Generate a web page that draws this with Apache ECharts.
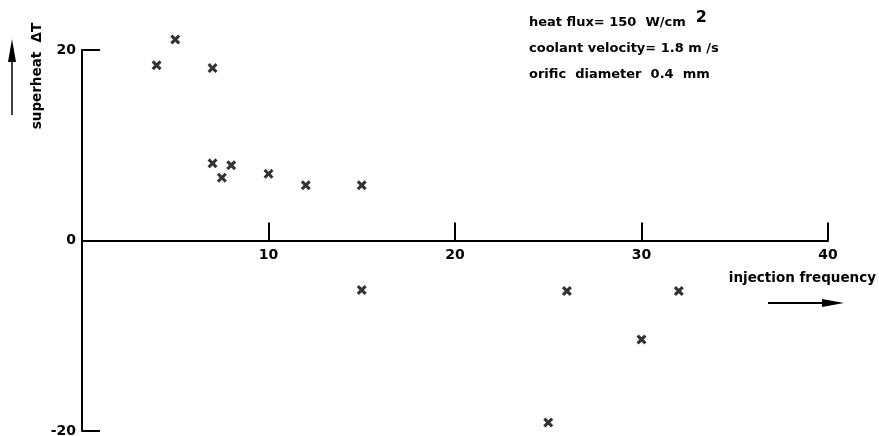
<!DOCTYPE html>
<html>
<head>
<meta charset="utf-8">
<script src="https://cdn.jsdelivr.net/npm/echarts@6/dist/echarts.min.js"></script>
<style>
  html, body { margin: 0; padding: 0; background: #fff; }
  #chart { width: 879px; height: 436px; }
</style>
</head>
<body>
<div id="chart"></div>
<script>
// Injection frequency (x) against superheat ΔT (y)
const injectionFrequency = [4, 5, 7, 7, 7.5, 8, 10, 12, 15, 15, 25, 26, 30, 32];
const superheat = [18.4, 21.1, 18.1, 8.1, 6.6, 7.9, 7.0, 5.8, 5.8, -5.2, -19.1, -5.3, -10.4, -5.3];

const xTicks = [0, 10, 20, 30, 40];
const yTicks = [-20, 0, 20];

const notes = [
  '{t|heat flux= 150  W/cm}{sup|2}',
  '{t|coolant velocity= 1.8 m /s}',
  '{t|orific  diameter  0.4  mm}'
];

const FONT = 'DejaVu Sans';
const points = injectionFrequency.map((f, i) => [f, superheat[i]]);

// bold "x" marker
const crossPath = 'path://M0,2.2 L2.2,0 L5,2.8 L7.8,0 L10,2.2 L7.2,5 L10,7.8 L7.8,10 L5,7.2 L2.2,10 L0,7.8 L2.8,5 Z';

const GRID = { left: 82, right: 51, top: 50, bottom: 5 };
const plotHeight = 436 - GRID.top - GRID.bottom;

const chart = echarts.init(document.getElementById('chart'), null, { renderer: 'canvas' });

chart.setOption({
  animation: false,
  backgroundColor: '#ffffff',
  grid: Object.assign({ containLabel: false, outerBoundsMode: 'none' }, GRID),
  xAxis: {
    type: 'value',
    min: xTicks[0],
    max: xTicks[xTicks.length - 1],
    interval: 10,
    position: 'bottom',
    // the horizontal axis runs through ΔT = 0, the middle of the symmetric y range
    offset: -plotHeight / 2,
    splitLine: { show: false },
    axisLine: { onZero: false, lineStyle: { color: '#000', width: 2 } },
    axisTick: { inside: true, length: 18, lineStyle: { color: '#000', width: 2 } },
    axisLabel: {
      margin: 8,
      color: '#000',
      fontFamily: FONT,
      fontWeight: 'bold',
      fontSize: 14,
      formatter: v => (v === 0 ? '' : String(v))
    }
  },
  yAxis: {
    type: 'value',
    min: yTicks[0],
    max: yTicks[yTicks.length - 1],
    interval: 20,
    splitLine: { show: false },
    axisLine: { onZero: false, lineStyle: { color: '#000', width: 2 } },
    axisTick: { inside: true, length: 18, lineStyle: { color: '#000', width: 2 } },
    axisLabel: {
      margin: 6,
      color: '#000',
      fontFamily: FONT,
      fontWeight: 'bold',
      fontSize: 14,
      formatter: v => String(v)
    }
  },
  series: [{
    type: 'scatter',
    data: points,
    symbol: crossPath,
    symbolSize: [10, 10],
    itemStyle: { color: '#000' },
    clip: false,
    silent: true
  }],
  graphic: [
    // vertical axis caption with upward arrow
    {
      type: 'text', x: 37, y: 76, rotation: Math.PI / 2,
      style: { text: 'superheat  ΔT', fill: '#000', font: 'bold 13.5px "DejaVu Sans"', align: 'center', verticalAlign: 'middle' }
    },
    { type: 'line', shape: { x1: 12, y1: 115, x2: 12, y2: 58 }, style: { stroke: '#000', lineWidth: 1.5 } },
    { type: 'polygon', shape: { points: [[12, 39], [16, 62], [8, 62]] }, style: { fill: '#000' } },
    // horizontal axis caption with right arrow
    {
      type: 'text', x: 876, y: 278,
      style: { text: 'injection frequency', fill: '#000', font: 'bold 13.5px "DejaVu Sans"', align: 'right', verticalAlign: 'middle' }
    },
    { type: 'line', shape: { x1: 768, y1: 303, x2: 826, y2: 303 }, style: { stroke: '#000', lineWidth: 2 } },
    { type: 'polygon', shape: { points: [[844, 303], [822, 299], [822, 307]] }, style: { fill: '#000' } },
    // operating conditions
    {
      type: 'text', x: 529, y: 10,
      style: {
        text: notes.join('\n'),
        fill: '#000',
        font: 'bold 13px "DejaVu Sans"',
        lineHeight: 26,
        verticalAlign: 'top',
        rich: {
          t: { fontFamily: FONT, fontWeight: 'bold', fontSize: 13, lineHeight: 26, fill: '#000' },
          sup: { fontFamily: FONT, fontWeight: 'bold', fontSize: 16, lineHeight: 26, fill: '#000', verticalAlign: 'top', padding: [0, 0, 10, 10] }
        }
      }
    }
  ]
});
</script>
</body>
</html>
